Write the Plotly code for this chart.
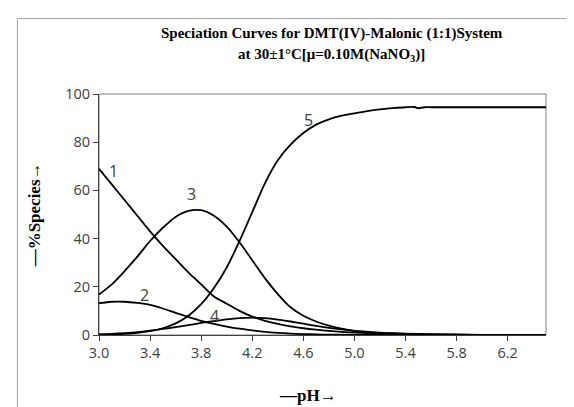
import plotly.graph_objects as go

# ---- data ----
ph = [3.0, 3.1, 3.2, 3.3, 3.4, 3.5, 3.6, 3.7, 3.8, 3.9, 4.0, 4.1, 4.2, 4.3, 4.4,
      4.5, 4.6, 4.7, 4.8, 4.9, 5.0, 5.2, 5.4, 5.6, 5.8, 6.0, 6.2, 6.5]
species1 = [69, 62.5, 56, 49.5, 43, 37, 31.5, 26, 21, 16, 13, 10, 7.6, 5.9, 4.6,
            3.6, 2.8, 2.2, 1.7, 1.3, 1.0, 0.6, 0.35, 0.2, 0.1, 0.05, 0.02, 0]
species2 = [13.2, 13.8, 13.8, 13.3, 12.5, 11, 9.2, 7.5, 5.9, 4.6, 3.5, 2.6, 1.9, 1.3, 0.9,
            0.6, 0.4, 0.25, 0.15, 0.1, 0.05, 0.02, 0, 0, 0, 0, 0, 0]
species3 = [16.8, 21, 26.5, 32.5, 39, 44.5, 49, 51.5, 51.8, 49.5, 45, 38.5, 31, 23.5, 17,
            11.5, 8, 5.6, 3.9, 2.6, 1.7, 0.8, 0.4, 0.2, 0.1, 0.05, 0.02, 0]
species4 = [0.3, 0.5, 0.8, 1.2, 1.8, 2.5, 3.3, 4.1, 5.0, 5.8, 6.5, 7.0, 7.2, 7.0, 6.4,
            5.6, 4.7, 3.8, 3.0, 2.3, 1.7, 1.0, 0.6, 0.3, 0.15, 0.07, 0.03, 0]
ph5 = [3.0, 3.1, 3.2, 3.3, 3.4, 3.5, 3.6, 3.7, 3.8, 3.9, 4.0, 4.1, 4.2, 4.3, 4.4,
       4.5, 4.6, 4.7, 4.8, 4.9, 5.0, 5.1, 5.2, 5.3, 5.4, 5.47, 5.5, 5.55, 5.6, 6.0, 6.5]
species5 = [0.1, 0.2, 0.5, 0.9, 1.6, 2.8, 4.8, 8, 12.8, 19.5, 28, 39, 51, 63, 72.5,
            79, 83.8, 87.3, 89.5, 91, 92, 92.9, 93.6, 94.1, 94.5, 94.6, 94.1, 94.5, 94.5, 94.5, 94.5]

curve_labels = ["1", "2", "3", "4", "5"]
label_ph = [3.117, 3.355, 3.725, 3.907, 4.638]
label_val = [67.9, 16.5, 58.5, 7.9, 89.2]

x_ticks = [3.0, 3.4, 3.8, 4.2, 4.6, 5.0, 5.4, 5.8, 6.2]
y_ticks = [0, 20, 40, 60, 80, 100]

fig = go.Figure()
for xs, ys in [(ph, species1), (ph, species2), (ph, species3), (ph, species4), (ph5, species5)]:
    fig.add_trace(go.Scatter(x=xs, y=ys, mode="lines",
                             line=dict(color="black", width=1.8, shape="spline", smoothing=0.8),
                             showlegend=False, hoverinfo="skip"))

for t, xv, yv in zip(curve_labels, label_ph, label_val):
    fig.add_annotation(x=xv, y=yv, text=t, showarrow=False,
                       font=dict(family="Open Sans", size=16, color="#404040"))

# title (two lines)
fig.add_annotation(xref="paper", yref="paper", x=0.521, y=1.251, yanchor="middle",
                   text="<b>Speciation Curves for DMT(IV)-Malonic (1:1)System</b>",
                   showarrow=False, font=dict(family="Liberation Serif", size=15, color="black"))
fig.add_annotation(xref="paper", yref="paper", x=0.521, y=1.160, yanchor="middle",
                   text="<b>at 30±1°C[μ=0.10M(NaNO<sub>3</sub>)]</b>",
                   showarrow=False, font=dict(family="Liberation Serif", size=15, color="black"))

# axis titles
fig.add_annotation(xref="paper", yref="paper", x=0.4676, y=-0.251, yanchor="middle",
                   text="<b>—pH→</b>", showarrow=False,
                   font=dict(family="Liberation Serif", size=17, color="black"))
fig.add_annotation(xref="paper", yref="paper", x=-0.1423, y=0.498, xanchor="center",
                   yanchor="middle", textangle=-90,
                   text="<b>—%Species→</b>", showarrow=False,
                   font=dict(family="Liberation Serif", size=17, color="black"))

# plot-area border (gray) and outer chart frame
fig.add_shape(type="rect", xref="paper", yref="paper", x0=0, y0=0, x1=1, y1=1,
              line=dict(color="#7f7f7f", width=1), layer="below")
fig.add_shape(type="line", xref="paper", yref="paper", x0=-0.1825, y0=1.313, x1=1.2, y1=1.313,
              line=dict(color="#a0a0a0", width=1))
fig.add_shape(type="line", xref="paper", yref="paper", x0=-0.1825, y0=1.313, x1=-0.1825, y1=-0.4,
              line=dict(color="#a0a0a0", width=1))

fig.update_layout(
    width=574, height=407,
    margin=dict(l=91, r=36, t=86, b=80),
    paper_bgcolor="white", plot_bgcolor="white",
    xaxis=dict(range=[3.0, 6.5], tickvals=x_ticks, ticktext=[f"{v:.1f}" for v in x_ticks],
               showgrid=False, zeroline=False, showline=True, linecolor="#404040", linewidth=1,
               ticks="outside", ticklen=5, tickcolor="#404040", automargin=False,
               tickfont=dict(family="Open Sans", size=14.5, color="#404040")),
    yaxis=dict(range=[0, 100], tickvals=y_ticks, showgrid=False, zeroline=False,
               showline=True, linecolor="#404040", linewidth=1, automargin=False,
               ticks="outside", ticklen=5, tickcolor="#404040",
               tickfont=dict(family="Open Sans", size=14.5, color="#404040")),
)

fig.write_html("out.html")
